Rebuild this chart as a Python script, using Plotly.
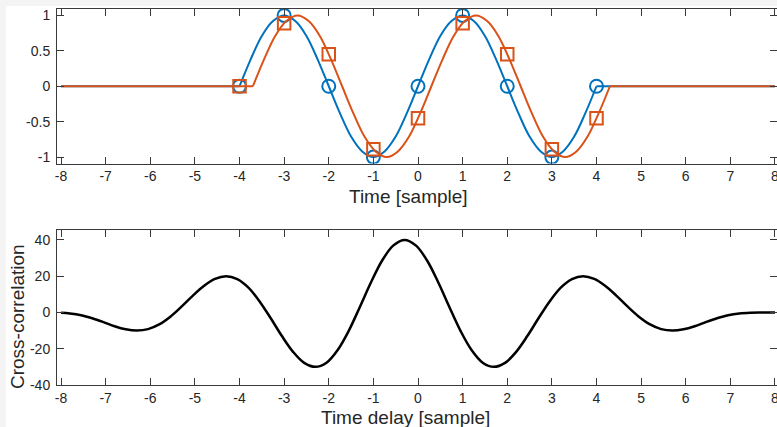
import plotly.graph_objects as go

# ---------------- data ----------------
t_samples = [-4, -3, -2, -1, 0, 1, 2, 3, 4]
blue_samples = [0, 1, 0, -1, 0, 1, 0, -1, 0]
orange_samples = [0, 0.89, 0.45, -0.89, -0.45, 0.89, 0.45, -0.89, -0.45]

blue_curve_t = [-8, -4, -3.75, -3.5, -3.25, -3, -2.75, -2.5, -2.25, -2, -1.75, -1.5, -1.25, -1,
                -0.75, -0.5, -0.25, 0, 0.25, 0.5, 0.75, 1, 1.25, 1.5, 1.75, 2, 2.25, 2.5, 2.75,
                3, 3.25, 3.5, 3.75, 4, 8]
blue_curve_y = [0, 0, 0.38, 0.71, 0.92, 1, 0.92, 0.71, 0.38, 0, -0.38, -0.71, -0.92, -1,
                -0.92, -0.71, -0.38, 0, 0.38, 0.71, 0.92, 1, 0.92, 0.71, 0.38, 0, -0.38, -0.71, -0.92,
                -1, -0.92, -0.71, -0.38, 0, 0]
orange_curve_t = [-8, -3.7, -3.45, -3.2, -2.95, -2.7, -2.45, -2.2, -1.95, -1.7, -1.45, -1.2, -0.95, -0.7,
                  -0.45, -0.2, 0.05, 0.3, 0.55, 0.8, 1.05, 1.3, 1.55, 1.8, 2.05, 2.3, 2.55, 2.8, 3.05,
                  3.3, 3.55, 3.8, 4.05, 4.3, 8]
orange_curve_y = [0, 0, 0.38, 0.71, 0.92, 1, 0.92, 0.71, 0.38, 0, -0.38, -0.71, -0.92, -1,
                  -0.92, -0.71, -0.38, 0, 0.38, 0.71, 0.92, 1, 0.92, 0.71, 0.38, 0, -0.38, -0.71, -0.92,
                  -1, -0.92, -0.71, -0.38, 0, 0]

lag = [-8, -7.8, -7.55, -7.3, -7.05, -6.8, -6.55, -6.3, -6.05, -5.8, -5.55, -5.3, -5.05, -4.8,
       -4.55, -4.3, -4.05, -3.8, -3.55, -3.3, -3.05, -2.8, -2.55, -2.3, -2.05, -1.8, -1.55, -1.3,
       -1.05, -0.8, -0.55, -0.3, -0.05, 0.2, 0.45, 0.7, 0.95, 1.2, 1.45, 1.7, 1.95, 2.2, 2.45, 2.7,
       2.95, 3.2, 3.45, 3.7, 3.95, 4.2, 4.45, 4.7, 4.95, 5.2, 5.45, 5.7, 5.95, 6.2, 6.45, 6.7, 6.95,
       7.2, 7.45, 7.7, 8]
xcorr = [-0.1, -0.5, -1.5, -3.2, -5.3, -7.6, -9.3, -10, -9.2, -6.6, -2.3, 3.2, 9.2, 14.6,
         18.5, 20, 18.4, 13.7, 6.1, -3.2, -13.0, -21.7, -27.8, -30, -27.7, -20.7, -10.0, 3.2,
         16.8, 28.8, 37.0, 40, 37.0, 28.8, 16.8, 3.2, -10.0, -20.7, -27.7, -30, -27.8, -21.7, -13.0, -3.2,
         6.1, 13.7, 18.4, 20, 18.5, 14.6, 9.2, 3.2, -2.3, -6.6, -9.2, -10, -9.3, -7.6, -5.3, -3.2, -1.5,
         -0.5, -0.1, 0, 0]

x_ticks = list(range(-8, 9))
x_tick_labels = [str(v) for v in x_ticks]
y1_ticks = [-1, -0.5, 0, 0.5, 1]
y1_tick_labels = ["-1", "-0.5", "0", "0.5", "1"]
y2_ticks = [-40, -20, 0, 20, 40]
y2_tick_labels = ["-40", "-20", "0", "20", "40"]

BLUE = "#0072BD"
ORANGE = "#D95319"
FONT = "Liberation Sans, Arial, sans-serif"
AX = "#3a3a3a"
TXT = "#262626"

W, H = 777, 427
ML = 57

fig = go.Figure()


def add_curve(tx, ty, color, xa, ya):
    # flat zero parts (straight), the sinusoid part (smoothed through read points)
    fig.add_trace(go.Scatter(x=tx[:2] + [None] + tx[-2:], y=ty[:2] + [None] + ty[-2:],
                             mode="lines", line=dict(color=color, width=2),
                             xaxis=xa, yaxis=ya, showlegend=False, hoverinfo="skip"))
    fig.add_trace(go.Scatter(x=tx[1:-1], y=ty[1:-1], mode="lines",
                             line=dict(color=color, width=2, shape="spline", smoothing=1),
                             xaxis=xa, yaxis=ya, showlegend=False))


add_curve(blue_curve_t, blue_curve_y, BLUE, "x", "y")
fig.add_trace(go.Scatter(x=t_samples, y=blue_samples, mode="markers",
                         marker=dict(symbol="circle-open", size=13, color=BLUE,
                                     line=dict(width=2, color=BLUE)),
                         xaxis="x", yaxis="y", showlegend=False))
add_curve(orange_curve_t, orange_curve_y, ORANGE, "x", "y")
fig.add_trace(go.Scatter(x=t_samples, y=orange_samples, mode="markers",
                         marker=dict(symbol="square-open", size=12.5, color=ORANGE,
                                     line=dict(width=2, color=ORANGE)),
                         xaxis="x", yaxis="y", showlegend=False))

fig.add_trace(go.Scatter(x=lag, y=xcorr, mode="lines",
                         line=dict(color="black", width=2.5, shape="spline", smoothing=1),
                         xaxis="x2", yaxis="y2", showlegend=False))


def py(p):
    return 1 - p / H


def px(p):
    return (p - ML) / (W - ML)


axis_common = dict(showline=True, linecolor=AX, linewidth=1, mirror="ticks",
                   ticks="inside", ticklen=7, tickwidth=1, tickcolor=AX,
                   showgrid=False, zeroline=False, automargin=False,
                   ticklabeloverflow="allow",
                   tickfont=dict(family=FONT, size=14, color=TXT))

fig.update_layout(
    width=W, height=H,
    margin=dict(l=ML, r=0, t=0, b=0),
    paper_bgcolor="#f4f4f4",
    plot_bgcolor="white",
    xaxis=dict(domain=[0, 1], range=[-8.09, 8.045], anchor="y",
               tickvals=x_ticks, ticktext=x_tick_labels, **axis_common),
    yaxis=dict(domain=[py(163.5), py(9)], range=[-1.09, 1.09], anchor="x",
               tickvals=y1_ticks, ticktext=y1_tick_labels, ticklabelstandoff=3, **axis_common),
    xaxis2=dict(domain=[0, 1], range=[-8.09, 8.045], anchor="y2",
                tickvals=x_ticks, ticktext=x_tick_labels, **axis_common),
    yaxis2=dict(domain=[py(385), py(230)], range=[-40, 45.5], anchor="x2",
                tickvals=y2_ticks, ticktext=y2_tick_labels, ticklabelstandoff=3, **axis_common),
    shapes=[dict(type="rect", xref="paper", yref="paper",
                 x0=px(6), x1=px(W + 5), y0=py(H + 5), y1=py(6),
                 fillcolor="white", line=dict(width=0), layer="below")],
    annotations=[
        dict(text="Time [sample]", x=px(408), y=py(196), xref="paper", yref="paper",
             showarrow=False, xanchor="center", yanchor="middle",
             font=dict(family=FONT, size=19, color=TXT)),
        dict(text="Time delay [sample]", x=px(405), y=py(417), xref="paper", yref="paper",
             showarrow=False, xanchor="center", yanchor="middle",
             font=dict(family=FONT, size=19, color=TXT)),
        dict(text="Cross-correlation", x=px(17), y=py(317), xref="paper", yref="paper",
             showarrow=False, xanchor="center", yanchor="middle", textangle=-90,
             font=dict(family=FONT, size=19, color=TXT)),
    ],
)

fig.write_html("out.html",
               config={"displayModeBar": False},
               post_script="document.body.style.margin='0';document.body.style.overflow='hidden';")
